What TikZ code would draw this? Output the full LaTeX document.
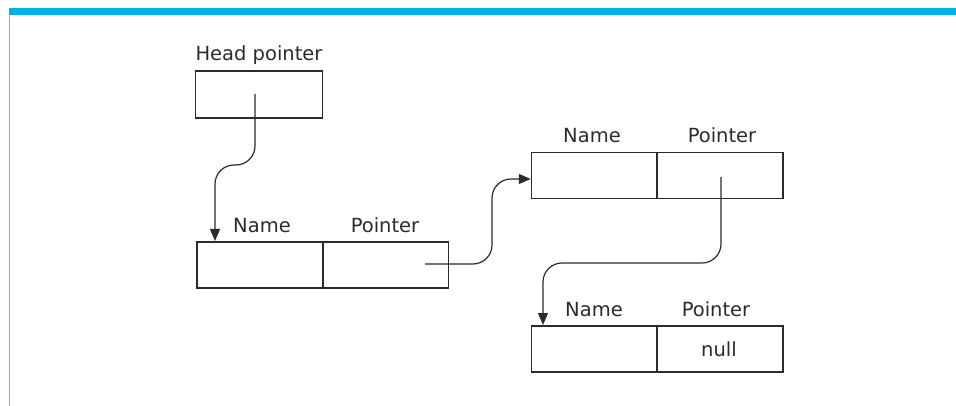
\documentclass[tikz,border=0pt]{standalone}
\usepackage{fontspec}
\setmainfont{DejaVu Sans}
\usetikzlibrary{arrows.meta}
\definecolor{ink}{HTML}{2B2B2B}
\definecolor{barblue}{HTML}{00AEEF}
\begin{document}
\begin{tikzpicture}[x=1pt,y=-1pt,
  cell/.style={draw=ink,line width=1.5pt,minimum width=126pt,minimum height=46pt,inner sep=0pt},
  lbl/.style={text=ink,font=\fontsize{19.5}{23}\selectfont,anchor=base,inner sep=0pt},
  link/.style={draw=ink,line width=1.2pt,rounded corners=19pt,-{Triangle[length=12pt,width=10pt]}}]
\useasboundingbox (0,0) rectangle (956,406);
% frame
\fill[barblue] (9,8) rectangle (956,15);
\draw[barblue!70,line width=1pt] (9.8,15) -- (9.8,406);
% head pointer
\node[cell,minimum width=127pt,minimum height=47pt] (head) at (259,94.5) {};
\node[lbl] (headlbl) at (259,61) {Head pointer};
% list element 1
\node[cell] (n1) at (260,265) {};
\node[cell] (p1) at (385.5,265) {};
\node[lbl] (n1lbl) at (262,233) {Name};
\node[lbl] (p1lbl) at (385,233) {Pointer};
% list element 2
\node[cell] (n2) at (594.5,175.5) {};
\node[cell] (p2) at (720,175.5) {};
\node[lbl] (n2lbl) at (592,143) {Name};
\node[lbl] (p2lbl) at (722,143) {Pointer};
% list element 3
\node[cell] (n3) at (594.5,349) {};
\node[cell] (p3) at (720,349) {};
\node[lbl] (n3lbl) at (594,316) {Name};
\node[lbl] (p3lbl) at (716,316) {Pointer};
\node[lbl] (nulllbl) at (719,356) {null};
% connector anchors
\coordinate (hs) at (255,94);
\coordinate (t1) at (215,241);
\coordinate (s1) at (425,264);
\coordinate (s2) at (721,177);
\coordinate (t3) at (543,325);
% connectors
\draw[link] (hs) -- (255,165) -- (215,165) -- (t1);
\draw[link] (s1) -- (492,264) -- (492,179) -- (n2.west |- 0,179);
\draw[link] (s2) -- (721,263) -- (543,263) -- (t3);
\end{tikzpicture}
\end{document}
